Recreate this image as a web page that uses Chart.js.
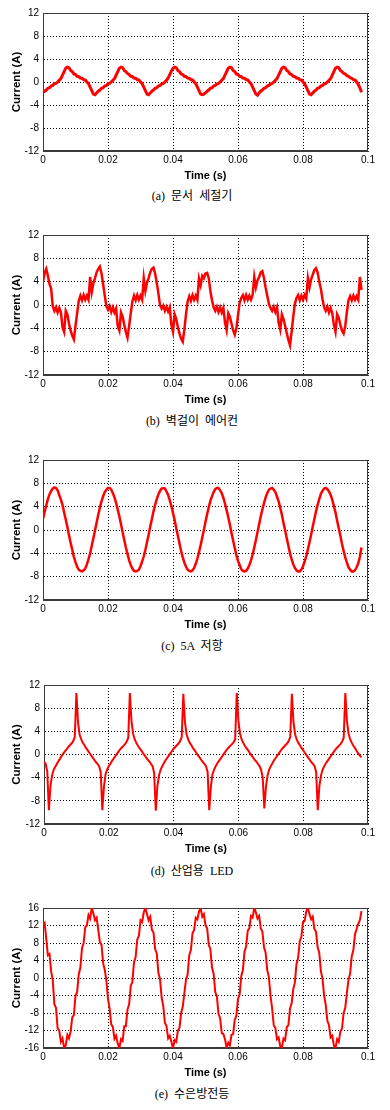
<!DOCTYPE html>
<html>
<head>
<meta charset="utf-8">
<script src="https://cdn.jsdelivr.net/npm/chart.js@4.4.1/dist/chart.umd.min.js"></script>
<style>
  html, body { margin: 0; padding: 0; background: #ffffff; }
  body { position: relative; width: 390px; height: 1110px; overflow: hidden; }
  canvas.panel { position: absolute; left: 0; }
  .cap { position: absolute; left: 0; width: 384px; text-align: center; white-space: pre;
         font-family: "Liberation Serif", "Noto Sans CJK KR", serif; font-size: 12px; line-height: 14px; color: #000; }
</style>
</head>
<body>
<canvas class="panel" id="pa" width="390" height="183" style="top:0px"></canvas>
<div class="cap" id="capa" style="top:189px"></div>
<canvas class="panel" id="pb" width="390" height="185" style="top:222px"></canvas>
<div class="cap" id="capb" style="top:414px"></div>
<canvas class="panel" id="pc" width="390" height="185" style="top:447px"></canvas>
<div class="cap" id="capc" style="top:639px"></div>
<canvas class="panel" id="pd" width="390" height="184" style="top:672px"></canvas>
<div class="cap" id="capd" style="top:864px"></div>
<canvas class="panel" id="pe" width="390" height="185" style="top:895px"></canvas>
<div class="cap" id="cape" style="top:1087px"></div>
<script>
// ---------------- DATA ----------------
const timeS = [
 0,0.0005,0.001,0.0015,0.002,0.0025,0.003,0.0035,0.004,0.0045,
 0.005,0.0055,0.006,0.0065,0.007,0.0075,0.008,0.0085,0.009,0.0095,
 0.01,0.0105,0.011,0.0115,0.012,0.0125,0.013,0.0135,0.014,0.0145,
 0.015,0.0155,0.016,0.0165,0.017,0.0175,0.018,0.0185,0.019,0.0195,
 0.02,0.0205,0.021,0.0215,0.022,0.0225,0.023,0.0235,0.024,0.0245,
 0.025,0.0255,0.026,0.0265,0.027,0.0275,0.028,0.0285,0.029,0.0295,
 0.03,0.0305,0.031,0.0315,0.032,0.0325,0.033,0.0335,0.034,0.0345,
 0.035,0.0355,0.036,0.0365,0.037,0.0375,0.038,0.0385,0.039,0.0395,
 0.04,0.0405,0.041,0.0415,0.042,0.0425,0.043,0.0435,0.044,0.0445,
 0.045,0.0455,0.046,0.0465,0.047,0.0475,0.048,0.0485,0.049,0.0495,
 0.05,0.0505,0.051,0.0515,0.052,0.0525,0.053,0.0535,0.054,0.0545,
 0.055,0.0555,0.056,0.0565,0.057,0.0575,0.058,0.0585,0.059,0.0595,
 0.06,0.0605,0.061,0.0615,0.062,0.0625,0.063,0.0635,0.064,0.0645,
 0.065,0.0655,0.066,0.0665,0.067,0.0675,0.068,0.0685,0.069,0.0695,
 0.07,0.0705,0.071,0.0715,0.072,0.0725,0.073,0.0735,0.074,0.0745,
 0.075,0.0755,0.076,0.0765,0.077,0.0775,0.078,0.0785,0.079,0.0795,
 0.08,0.0805,0.081,0.0815,0.082,0.0825,0.083,0.0835,0.084,0.0845,
 0.085,0.0855,0.086,0.0865,0.087,0.0875,0.088,0.0885,0.089,0.0895,
 0.09,0.0905,0.091,0.0915,0.092,0.0925,0.093,0.0935,0.094,0.0945,
 0.095,0.0955,0.096,0.0965,0.097,0.0975,0.098
];

// (a) 문서 세절기
const currentShredder = [
 -1.8,-1.6,-1.4,-1.1,-1.0,-0.7,-0.6,-0.3,-0.25,0.0,0.3,0.6,1.2,1.8,2.4,2.6,
 2.5,2.0,1.8,1.4,1.3,1.0,0.95,0.7,0.65,0.4,0.35,0.0,-0.3,-0.9,-1.5,-2.1,-2.2,
 -1.9,-1.6,-1.4,-1.1,-1.0,-0.7,-0.6,-0.3,-0.25,0.0,0.3,0.6,1.2,1.8,2.4,2.6,
 2.5,2.0,1.8,1.5,1.3,1.0,0.95,0.7,0.65,0.4,0.35,0.0,-0.3,-0.9,-1.5,-2.1,-2.2,
 -1.9,-1.6,-1.4,-1.1,-1.0,-0.7,-0.6,-0.35,-0.25,0.0,0.3,0.7,1.3,1.9,2.4,2.6,
 2.5,2.0,1.8,1.4,1.3,1.0,0.95,0.7,0.65,0.4,0.35,0.0,-0.3,-0.9,-1.5,-2.1,-2.2,
 -2.1,-1.9,-1.6,-1.4,-1.1,-1.0,-0.7,-0.6,-0.35,-0.25,0.0,0.3,0.6,1.2,1.8,2.4,2.6,
 2.5,2.0,1.8,1.4,1.3,1.0,0.95,0.7,0.65,0.4,0.35,0.0,-0.3,-0.9,-1.5,-2.1,-2.3,
 -1.9,-1.6,-1.4,-1.1,-1.0,-0.7,-0.6,-0.35,-0.25,0.0,0.3,0.6,1.2,1.8,2.4,2.6,
 2.5,2.0,1.8,1.4,1.3,1.0,0.95,0.7,0.65,0.4,0.35,0.0,-0.3,-0.9,-1.5,-2.1,-2.2,
 -1.9,-1.6,-1.4,-1.1,-1.0,-0.7,-0.6,-0.35,-0.25,0.0,0.3,0.6,1.2,1.8,2.4,2.6,
 2.5,2.0,1.8,1.5,1.4,1.1,1.0,0.75,0.65,0.4,0.35,0.0,-0.4,-1.0,-1.8
];

// (b) 벽걸이 에어컨
const currentAircon = [
 4.0,5.5,6.2,5.0,3.6,2.8,-0.2,-1.0,-0.4,-1.3,
 -0.5,-1.2,-3.8,-4.6,-1.0,-1.6,-3.2,-4.4,-5.3,-5.9,
 -3.6,-1.4,0.7,1.6,0.8,1.7,0.9,1.6,0.9,4.8,
 2.2,3.7,4.6,5.6,6.2,6.6,
 5.4,3.6,1.6,-0.2,-0.8,-0.2,-1.2,-0.4,-1.3,-0.6,-3.6,-4.4,-1.3,-2.0,-3.4,-4.6,-5.6,-3.6,-1.4,0.6,1.6,0.8,1.7,0.9,1.6,0.9,4.6,2.4,3.8,4.6,5.6,6.2,6.4,
 5.4,3.8,2.0,0.0,-0.6,-0.1,-1.0,-0.3,-1.1,-0.4,-3.4,-4.6,-1.6,-2.4,-3.8,-4.9,-5.8,-6.3,-4.2,-1.6,0.6,1.5,0.7,1.7,0.9,1.6,0.9,4.5,3.4,5.0,4.6,5.4,5.5,
 4.6,2.4,0.8,-0.4,-1.0,-0.3,-1.2,-0.4,-1.3,-0.5,-3.0,-4.3,-1.4,-2.0,-3.2,-4.3,-5.1,-4.0,-1.8,0.4,1.2,1.7,0.8,1.7,0.9,1.6,0.9,1.7,4.8,3.0,4.2,4.8,5.6,5.8,
 4.6,3.0,1.6,0.2,-0.5,-1.0,-0.3,-1.2,-0.4,-3.0,-4.2,-1.6,-2.4,-3.6,-4.8,-6.0,-6.9,-4.6,-2.0,0.2,1.2,1.7,0.8,1.6,0.9,1.7,1.1,4.6,3.0,4.4,5.2,6.0,6.3,
 5.6,4.0,2.8,1.0,-0.4,-1.0,-0.3,-1.3,-0.5,-1.4,-3.4,-4.6,-1.6,-2.2,-3.4,-4.4,-4.9,-3.6,-1.2,0.8,1.5,0.8,1.6,0.9,1.5,0.9,4.8,2.6
];

// (c) 5A 저항
const currentResistor = [
 1.9,3.1,4.2,5.3,6.1,6.7,7.1,7.3,7.2,6.8,
 6.0,5.2,4.3,3.0,1.8,0.5,-0.9,-2.2,-3.4,-4.6,
 -5.5,-6.3,-6.8,-7.0,-7.1,-6.9,-6.6,-5.9,-5.0,-4.0,
 -2.7,-1.4,-0.1,1.3,2.6,3.8,4.9,5.8,6.5,6.9,
 7.2,7.2,6.9,6.3,5.6,4.6,3.5,2.3,1.0,-0.4,
 -1.7,-3.0,-4.1,-5.2,-6.0,-6.6,-7.0,-7.1,-7.0,-6.8,
 -6.2,-5.4,-4.5,-3.4,-2.1,-0.8,0.6,1.9,3.2,4.3,
 5.3,6.1,6.7,7.1,7.2,7.1,6.6,6.0,5.1,4.1,
 2.9,1.7,0.3,-1.0,-2.3,-3.6,-4.7,-5.6,-6.3,-6.8,
 -7.0,-7.1,-6.9,-6.5,-5.8,-4.9,-3.8,-2.6,-1.3,0.0,
 1.4,2.7,3.9,5.0,5.8,6.5,7.0,7.2,7.2,6.8,
 6.3,5.5,4.5,3.4,2.2,0.9,-0.5,-1.8,-3.1,-4.3,
 -5.3,-6.0,-6.7,-7.0,-7.1,-7.0,-6.6,-6.0,-5.2,-4.2,
 -3.0,-1.7,-0.4,1.0,2.3,3.5,4.6,5.6,6.3,6.9,
 7.1,7.2,6.9,6.5,5.7,4.9,3.8,2.6,1.2,-0.1,
 -1.4,-2.7,-4.0,-5.0,-5.9,-6.5,-6.9,-7.1,-7.1,-6.8,
 -6.2,-5.4,-4.5,-3.3,-2.1,-0.8,0.6,1.9,3.2,4.3,
 5.3,6.2,6.7,7.1,7.2,7.0,6.6,6.0,5.2,4.1,
 3.0,1.6,0.3,-1.0,-2.4,-3.6,-4.7,-5.6,-6.4,-6.8,
 -7.1,-7.1,-6.9,-6.4,-5.7,-4.6,-3.0
];

// (d) 산업용 LED
const currentLED = [
 -1.3,-1.6,-2.9,-9.6,-5.4,-3.6,-2.6,-2.1,-1.6,-1.1,
 -0.7,-0.2,0.2,0.6,0.9,1.3,1.6,1.9,2.3,3.0,
 10.6,5.6,3.4,2.6,2.0,1.6,1.1,0.7,0.3,-0.1,
 -0.5,-0.9,-1.3,-1.6,-2.0,-3.0,-9.6,-5.6,-3.4,-2.6,
 -2.0,-1.6,-1.1,-0.7,-0.3,0.1,0.5,0.9,1.2,1.5,
 1.8,2.2,2.9,10.6,5.8,3.6,2.6,2.0,1.5,1.1,
 0.7,0.3,-0.1,-0.5,-0.9,-1.2,-1.6,-2.0,-3.2,-9.7,
 -5.4,-3.6,-2.6,-2.0,-1.5,-1.0,-0.6,-0.2,0.2,0.6,
 1.0,1.3,1.6,1.9,2.3,3.0,10.5,5.6,3.5,2.6,
 2.0,1.6,1.1,0.7,0.3,-0.1,-0.5,-0.9,-1.3,-1.6,
 -2.0,-3.0,-9.6,-5.6,-3.4,-2.6,-2.0,-1.5,-1.1,-0.7,
 -0.3,0.1,0.5,0.9,1.2,1.5,1.8,2.1,2.6,10.6,
 5.8,3.6,2.6,2.0,1.5,1.1,0.7,0.3,-0.1,-0.5,
 -0.9,-1.2,-1.6,-2.0,-2.6,-4.0,-9.3,-5.6,-3.6,-2.6,
 -2.0,-1.5,-1.0,-0.6,-0.2,0.2,0.6,1.0,1.3,1.6,
 1.9,2.3,3.0,10.5,5.6,3.5,2.6,2.0,1.6,1.1,
 0.7,0.3,-0.1,-0.5,-0.9,-1.3,-1.6,-2.0,-3.0,-9.6,
 -5.4,-3.6,-2.6,-2.0,-1.5,-1.1,-0.7,-0.3,0.1,0.5,
 0.9,1.2,1.5,1.8,2.2,2.9,10.6,5.8,3.6,2.6,
 2.0,1.5,1.1,0.6,0.2,-0.2,-0.5
];

// (e) 수은방전등
const currentMercury = [
 12.2,12.6,9.0,5.2,5.5,1.5,-0.5,-6.0,-6.8,-11.5,
 -12.0,-14.6,-13.8,-16.0,-15.4,-13.0,-13.8,-12.2,-9.0,-8.5,
 -4.0,-3.2,0.8,2.4,6.8,8.0,11.6,12.0,14.4,13.6,
 16.0,14.8,13.2,13.8,11.0,8.2,7.6,3.4,1.9,-0.6,
 -4.8,-7.0,-10.6,-11.2,-13.9,-13.2,-15.0,-16.0,-14.0,-14.4,
 -11.0,-11.0,-7.2,-6.0,-1.8,-0.9,3.6,4.8,8.8,9.6,
 13.2,12.8,15.0,16.0,14.6,13.2,14.0,11.0,10.4,6.6,
 5.6,1.2,-0.2,-4.4,-6.4,-10.2,-11.0,-13.8,-13.2,-14.6,
 -16.0,-14.2,-14.6,-12.0,-11.4,-8.0,-6.6,-3.4,-0.4,0.8,
 5.2,6.4,10.2,11.0,13.8,13.4,15.2,16.0,14.0,14.6,
 12.0,11.4,7.6,6.6,2.4,1.0,-3.2,-4.2,-8.2,-9.2,
 -12.6,-12.8,-14.0,-16.0,-14.8,-15.4,-13.0,-12.8,-9.6,-8.6,
 -4.8,-3.8,0.4,1.8,6.0,7.2,10.8,11.4,14.2,13.8,
 16.0,15.0,13.6,14.2,11.4,10.6,7.0,5.8,1.8,0.2,
 -4.0,-7.0,-10.8,-11.4,-14.0,-13.6,-15.6,-16.0,-13.8,-14.2,
 -11.2,-10.8,-7.0,-5.8,-2.6,-1.0,3.2,4.6,8.4,9.4,
 12.8,13.0,15.2,16.0,14.6,13.4,14.0,11.2,10.6,7.0,
 5.8,1.6,-0.2,-4.0,-6.2,-9.8,-10.8,-13.6,-13.2,-15.4,
 -16.0,-14.0,-14.6,-12.2,-11.6,-8.0,-6.8,-3.4,-0.4,1.0,
 5.0,6.4,10.0,11.2,12.4,13.2,15.3
];

const xTickValues = [0, 0.02, 0.04, 0.06, 0.08, 0.1];
const xTickLabels = ['0', '0.02', '0.04', '0.06', '0.08', '0.1'];
const yTicks12 = [-12, -8, -4, 0, 4, 8, 12];
const yTicks16 = [-16, -12, -8, -4, 0, 4, 8, 12, 16];
const captions = ['(a)  문서  세절기', '(b)  벽걸이  에어컨', '(c)  5A  저항', '(d)  산업용  LED', '(e)  수은방전등'];
const xTitle = 'Time (s)';
const yTitle = 'Current (A)';

// ---------------- DRAWING ----------------
const SANS = '"Liberation Sans", Arial, Helvetica, sans-serif';
Chart.defaults.font.family = SANS;
Chart.defaults.color = '#000';

const framePlugin = {
  id: 'frame',
  beforeDatasetsDraw(chart) {
    const a = chart.chartArea, ctx = chart.ctx;
    ctx.save();
    ctx.strokeStyle = '#3a3a3a';
    ctx.lineWidth = 1;
    ctx.strokeRect(Math.round(a.left) + 0.5, Math.round(a.top) + 0.5,
                   Math.round(a.right) - Math.round(a.left) - 1, Math.round(a.bottom) - Math.round(a.top) - 1);
    ctx.restore();
  }
};

function makeChart(id, values, yTicks, opts) {
  const pts = timeS.map((t, i) => ({ x: t, y: values[i] }));
  return new Chart(document.getElementById(id), {
    type: 'line',
    data: { datasets: [{ data: pts, borderColor: '#ff0000', borderWidth: opts.lw,
                         pointRadius: 0, tension: 0, fill: false }] },
    options: {
      responsive: false, animation: false, devicePixelRatio: 1,
      layout: { padding: { top: 13, right: 22, left: 0, bottom: 0 } },
      plugins: { legend: { display: false }, tooltip: { enabled: false } },
      scales: {
        x: {
          type: 'linear', min: 0, max: 0.1,
          afterBuildTicks: s => { s.ticks = xTickValues.map(v => ({ value: v })); },
          afterFit: s => { s.height = 32; },
          ticks: { callback: (v, i) => xTickLabels[i], font: { size: 10 }, color: '#000',
                   padding: 3, maxRotation: 0, autoSkip: false },
          grid: { color: '#000', lineWidth: 1, drawTicks: false },
          border: { display: true, color: '#3a3a3a', dash: [1, 2] },
          title: { display: true, text: xTitle, color: '#000', padding: 0,
                   font: { size: 11, weight: 'bold' } }
        },
        y: {
          type: 'linear', min: yTicks[0], max: yTicks[yTicks.length - 1],
          afterBuildTicks: s => { s.ticks = yTicks.map(v => ({ value: v })); },
          afterFit: s => { s.width = opts.yw; },
          ticks: { callback: (v, i) => String(yTicks[i]), font: { size: 10 }, color: '#000',
                   padding: 4, autoSkip: false },
          grid: { color: '#000', lineWidth: 1, drawTicks: false },
          border: { display: true, color: '#3a3a3a', dash: [1, 2] },
          title: { display: true, text: yTitle, color: '#000', padding: { top: 10, bottom: 0 },
                   font: { size: 11.5, weight: 'bold' } }
        }
      }
    },
    plugins: [framePlugin]
  });
}

makeChart('pa', currentShredder, yTicks12, { lw: 3, yw: 43 });
makeChart('pb', currentAircon, yTicks12, { lw: 2.5, yw: 43 });
makeChart('pc', currentResistor, yTicks12, { lw: 2.5, yw: 43 });
makeChart('pd', currentLED, yTicks12, { lw: 2, yw: 44 });
makeChart('pe', currentMercury, yTicks16, { lw: 2, yw: 43 });

['capa', 'capb', 'capc', 'capd', 'cape'].forEach((id, i) => {
  document.getElementById(id).textContent = captions[i];
});
</script>
</body>
</html>
